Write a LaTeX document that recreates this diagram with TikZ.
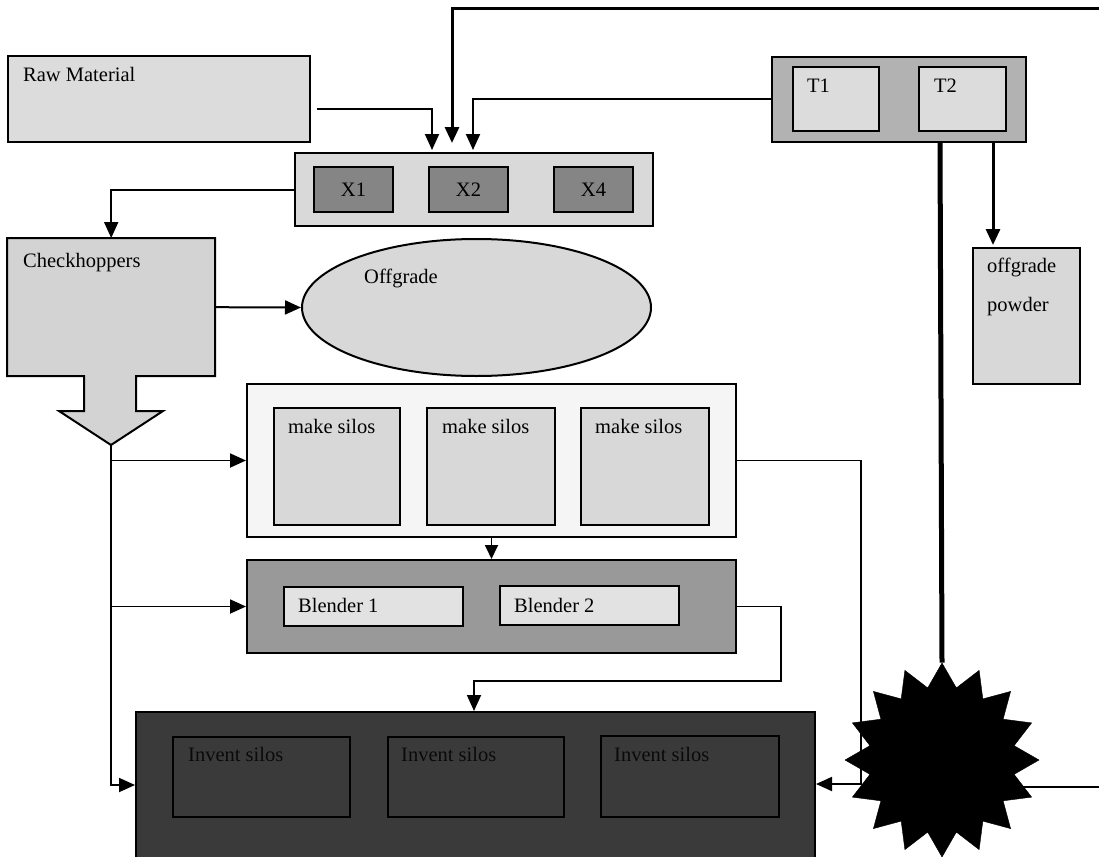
\documentclass[tikz,border=0pt]{standalone}
\usepackage{fontspec}
\setmainfont{Liberation Serif}
\usetikzlibrary{arrows.meta,shapes.geometric,calc}
\definecolor{cRaw}{HTML}{DCDCDC}
\definecolor{cXg}{HTML}{D9D9D9}
\definecolor{cXin}{HTML}{858585}
\definecolor{cTg}{HTML}{B2B2B2}
\definecolor{cTin}{HTML}{DCDCDC}
\definecolor{cOgp}{HTML}{D8D8D8}
\definecolor{cChk}{HTML}{D3D3D3}
\definecolor{cOff}{HTML}{D8D8D8}
\definecolor{cMs}{HTML}{F5F5F5}
\definecolor{cMsin}{HTML}{D8D8D8}
\definecolor{cBl}{HTML}{999999}
\definecolor{cBlin}{HTML}{E2E2E2}
\definecolor{cInv}{HTML}{3A3A3A}
\definecolor{cInvTxt}{HTML}{0A0A0A}
\begin{document}
\begin{tikzpicture}[x=1pt,y=-1pt,
  box/.style={draw=black,line width=2pt,rectangle,inner sep=0pt,anchor=north west},
  lbl/.style={anchor=base west,inner sep=0pt,font=\fontsize{20.5}{24}\selectfont},
  ctr/.style={font=\fontsize{20.5}{24}\selectfont},
  conn/.style={line width=2pt,-{Triangle[length=16pt,width=14pt]}},
  thinconn/.style={line width=1.8pt,-{Triangle[length=16pt,width=14pt]}}
]
\useasboundingbox (0,0) rectangle (1099,856);
\clip (0,0) rectangle (1099,856);
\fill[white] (0,0) rectangle (1099,856);

% ---- Raw material
\node[box,fill=cRaw,minimum width=302pt,minimum height=86pt] (raw) at (7,55) {};
\node[lbl] (rawt) at (23,82) {Raw Material};

% ---- X group
\node[box,fill=cXg,minimum width=358pt,minimum height=73pt] (xg) at (294,152) {};
\node[box,fill=cXin,minimum width=79pt,minimum height=45pt,ctr] (x1) at (313,166) {X1};
\node[box,fill=cXin,minimum width=79pt,minimum height=45pt,ctr] (x2) at (428,166) {X2};
\node[box,fill=cXin,minimum width=79pt,minimum height=45pt,ctr] (x4) at (553,166) {X4};

% ---- T group
\node[box,fill=cTg,minimum width=254pt,minimum height=85pt] (tg) at (771,56) {};
\node[box,fill=cTin,minimum width=86pt,minimum height=64pt] (t1) at (792,66) {};
\node[box,fill=cTin,minimum width=87pt,minimum height=64pt] (t2) at (918,66) {};
\node[lbl] (t1t) at (807,93) {T1};
\node[lbl] (t2t) at (934,93) {T2};

% ---- offgrade powder
\node[box,fill=cOgp,minimum width=107pt,minimum height=136pt] (ogp) at (972,247) {};
\node[lbl] (ogpt1) at (987,272) {offgrade};
\node[lbl] (ogpt2) at (987,311) {powder};

% ---- Checkhoppers (box with block arrow)
\filldraw[fill=cChk,draw=black,line width=2pt,line join=miter]
  (7,238) -- (215,238) -- (215,376) -- (136,376) -- (136,411) -- (163,411)
  -- (111,445) -- (59,411) -- (84,411) -- (84,376) -- (7,376) -- cycle;
\node[anchor=north west,inner sep=0pt,minimum width=208pt,minimum height=138pt] (chk) at (7,238) {};
\coordinate (chkTip) at (111,445);
\node[lbl] (chkt) at (23,267) {Checkhoppers};

% ---- Offgrade ellipse
\node[draw=black,ellipse,line width=2pt,fill=cOff,minimum width=349pt,minimum height=137pt,inner sep=0pt] (off) at (476.5,307.5) {};
\node[lbl] (offt) at (364,283) {Offgrade};

% ---- make silos
\node[box,fill=cMs,minimum width=489pt,minimum height=153pt] (ms) at (246,383) {};
\node[box,fill=cMsin,minimum width=126pt,minimum height=117pt] (ms1) at (273,407) {};
\node[box,fill=cMsin,minimum width=128pt,minimum height=117pt] (ms2) at (426,407) {};
\node[box,fill=cMsin,minimum width=128pt,minimum height=117pt] (ms3) at (580,407) {};
\node[lbl] (ms1t) at (288,433) {make silos};
\node[lbl] (ms2t) at (442,433) {make silos};
\node[lbl] (ms3t) at (595,433) {make silos};

% ---- Blenders
\node[box,fill=cBl,minimum width=489pt,minimum height=93pt] (bl) at (246,559) {};
\node[box,fill=cBlin,minimum width=179pt,minimum height=39pt] (b1) at (283,586) {};
\node[box,fill=cBlin,minimum width=179pt,minimum height=39pt] (b2) at (499,585) {};
\node[lbl] (b1t) at (298,612) {Blender 1};
\node[lbl] (b2t) at (514,612) {Blender 2};

% ---- Invent silos
\node[box,fill=cInv,draw=black,minimum width=679pt,minimum height=160pt] (inv) at (135,711) {};
\node[box,fill=cInv,draw=black,line width=1.8pt,minimum width=177pt,minimum height=80pt] (inv1) at (172,736) {};
\node[box,fill=cInv,draw=black,line width=1.8pt,minimum width=176pt,minimum height=80pt] (inv2) at (387,736) {};
\node[box,fill=cInv,draw=black,line width=1.8pt,minimum width=178pt,minimum height=81pt] (inv3) at (600,735) {};
\node[lbl] (inv1t) at (188,761) {\color{cInvTxt}Invent silos};
\node[lbl] (inv2t) at (401,761) {\color{cInvTxt}Invent silos};
\node[lbl] (inv3t) at (614,761) {\color{cInvTxt}Invent silos};

% ---- Star burst
\node[star,star points=16,star point ratio=1.32,minimum size=194pt,inner sep=0pt,fill=black,draw=black] (burst) at (942,760) {};

% ---- connectors
\coordinate (edgeB) at (1104,787);
\coordinate (edgeT) at (1104,9);
\draw[line width=2pt] ([yshift=-27pt]burst.center) -- (edgeB) -- (edgeT);
\draw[line width=3pt,-{Triangle[length=16pt,width=14pt]}] (edgeT) -| ([xshift=158pt,yshift=9pt]xg.north west);

\draw[conn] ([xshift=6pt,yshift=-10pt]raw.east) -| ([xshift=138pt,yshift=2pt]xg.north west);
\draw[conn] (tg.west) -| ([xshift=179pt,yshift=2pt]xg.north west);
\draw[conn] (xg.west) -| (chk.north);
\draw[conn] (chk.east) -- (off.west);

\draw[thinconn] (chkTip) |- ([yshift=-74pt]inv.north west);
\draw[thinconn] (chkTip |- ms.west) -- (ms.west);
\draw[thinconn] (chkTip |- bl.west) -- (bl.west);

\draw[line width=1.8pt,-{Triangle[length=14pt,width=13pt]}] (ms.south) -- (bl.north);

\coordinate (rbend) at (861,0);
\coordinate (invR) at ([yshift=-73pt]inv.north east);
\draw[thinconn] (ms.east) -- (ms.east -| rbend) -- (rbend |- invR) -- (invR);

\coordinate (bb1) at (781,681);
\draw[thinconn] (bl.east) -| (bb1) -| ([xshift=339pt]inv.north west);

\draw[line width=5pt] ([xshift=169pt]tg.south west) -- (burst.north);
\draw[line width=3pt,-{Triangle[length=16pt,width=14pt]}] ([xshift=222pt]tg.south west) -- ([xshift=21pt,yshift=2pt]ogp.north west);

\end{tikzpicture}
\end{document}
